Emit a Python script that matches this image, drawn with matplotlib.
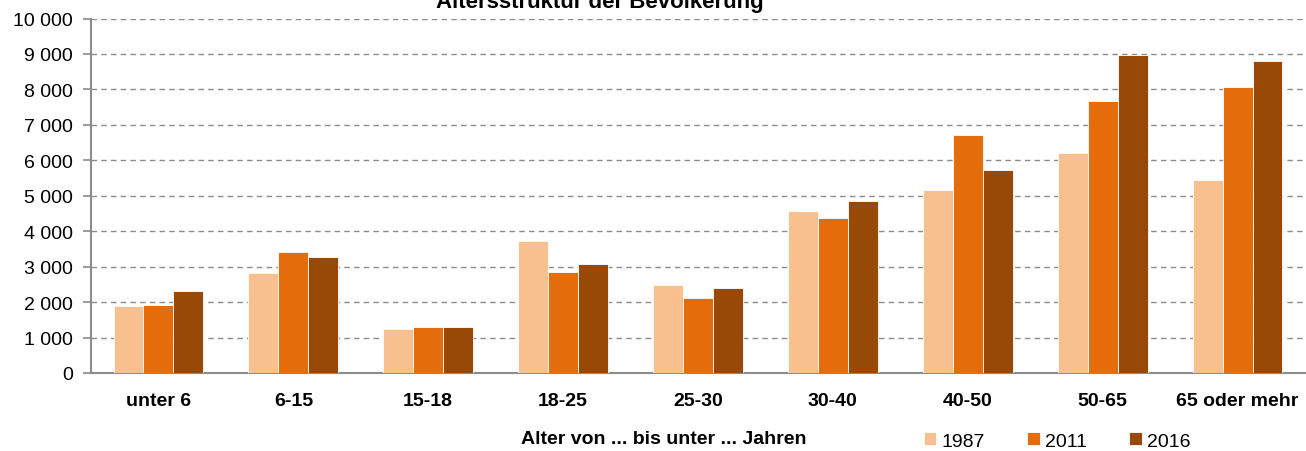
import numpy as np
import matplotlib
matplotlib.use('Agg')
import matplotlib.pyplot as plt
from matplotlib.ticker import FuncFormatter, MultipleLocator

plt.rcParams['font.family'] = ['Liberation Sans', 'DejaVu Sans']

categories = ['unter 6', '6-15', '15-18', '18-25', '25-30', '30-40', '40-50', '50-65', '65 oder mehr']
years = ['1987', '2011', '2016']
v1987 = [1890, 2830, 1250, 3730, 2490, 4560, 5170, 6210, 5450]
v2011 = [1920, 3420, 1290, 2860, 2110, 4380, 6720, 7680, 8070]
v2016 = [2300, 3270, 1290, 3080, 2390, 4850, 5730, 8980, 8810]
colors = ['#F9C08F', '#E46C0A', '#984807']

fig = plt.figure(figsize=(13.06, 4.52), dpi=100)
ax = fig.add_axes([91 / 1306, 1 - 374 / 452, (1305 - 91) / 1306, (374 - 19.5) / 452])

x = np.arange(len(categories))
w = 0.222
for i, vals in enumerate([v1987, v2011, v2016]):
    ax.bar(x + (i - 1) * w, vals, width=w, color=colors[i], edgecolor='white',
           linewidth=0.6, label=years[i], zorder=3)

ax.set_xlim(-0.5, len(categories) - 0.5)
ax.set_ylim(0, 10000)
ax.yaxis.set_major_locator(MultipleLocator(1000))
ax.yaxis.set_major_formatter(FuncFormatter(lambda v, p: f'{int(v):,}'.replace(',', ' ')))
ax.grid(axis='y', linestyle=(0, (4, 3)), color='#8c8c8c', linewidth=1.0, zorder=0)

ax.set_xticks(x)
ax.set_xticklabels(categories, fontsize=14, fontweight='bold')
ax.tick_params(axis='x', length=0, pad=14)
ax.tick_params(axis='y', labelsize=14, length=6, width=1.2, color='#8c8c8c', pad=7)

for s in ['top', 'right']:
    ax.spines[s].set_visible(False)
for s in ['left', 'bottom']:
    ax.spines[s].set_color('#8c8c8c')
    ax.spines[s].set_linewidth(1.5)

fig.text(664 / 1306, 1 - 440 / 452, 'Alter von ... bis unter ... Jahren', ha='center', va='center',
         fontsize=14, fontweight='bold')
fig.text(600 / 1306, 1 - 8 / 452, 'Altersstruktur der Bevölkerung', ha='center', va='baseline',
         fontsize=16, fontweight='bold')

fig.legend(loc='center', bbox_to_anchor=(1057 / 1306, 1 - 442 / 452), ncol=3, frameon=False,
           fontsize=14, handlelength=0.65, handleheight=0.65, handletextpad=0.25, columnspacing=2.2)

fig.savefig('out.png', dpi=100)
